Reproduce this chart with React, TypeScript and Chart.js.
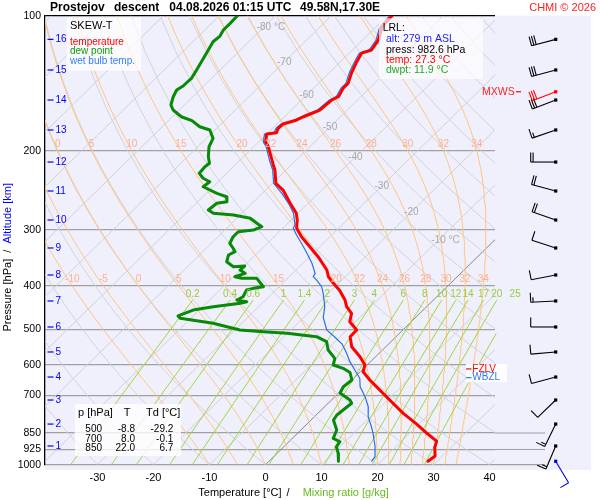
import React, { useEffect, useRef } from 'react';
import { Chart, registerables } from 'chart.js';

Chart.register(...registerables);

const FONT = '"Liberation Sans", Arial, Helvetica, sans-serif';
Chart.defaults.font.family = FONT;

// ---------- axes ----------
const P_TICKS = [100, 200, 300, 400, 500, 600, 700, 850, 925, 1000];
const X_TICKS = [-30, -20, -10, 0, 10, 20, 30, 40];
const X_MIN = -39.375;
const X_MAX = 40.982;
const SKEW = 81.78; // deg C of shift per decade of pressure

// ---------- profiles (pressure hPa / temperature degC) ----------
const TEMP_P = [100.0, 106.1, 113.3, 119.2, 121.2, 126.6, 133.5, 141.5, 145.1, 151.5, 154.1, 162.2, 167.9, 170.7, 174.3, 178.2, 182.3, 183.5, 190.9, 195.8, 202.5, 215.0, 220.6, 236.2, 244.5, 261.7, 275.4, 285.1, 297.5, 310.6, 326.9, 344.1, 368.5, 381.4, 394.5, 409.8, 429.7, 444.7, 460.1, 480.3, 501.2, 518.7, 546.0, 574.7, 599.8, 620.7, 647.7, 675.9, 717.7, 768.5, 811.9, 852.2, 885.8, 915.7, 956.4, 982.6];
const TEMP_T = [-59.2, -58.9, -57.2, -56.6, -57.8, -57.1, -56.1, -54.7, -54.7, -54.0, -54.6, -54.9, -56.6, -57.2, -58.9, -59.0, -58.5, -60.0, -58.8, -57.4, -55.9, -53.2, -52.0, -49.4, -46.9, -43.2, -40.3, -38.9, -37.5, -35.1, -31.8, -28.5, -24.5, -23.0, -20.9, -18.4, -15.8, -14.3, -12.2, -11.0, -8.25, -8.2, -6.1, -2.8, -0.4, 0.5, 3.2, 6.2, 10.4, 15.25, 19.6, 23.2, 26.25, 27.1, 28.7, 28.4];

const DEW_P = [100.0, 104.0, 107.6, 111.0, 114.3, 119.2, 124.4, 132.1, 137.9, 143.4, 146.4, 151.5, 158.1, 162.2, 167.9, 171.3, 176.7, 179.7, 187.6, 195.8, 206.1, 213.2, 216.9, 224.4, 230.2, 234.3, 240.4, 248.7, 253.1, 259.5, 261.7, 270.8, 275.4, 277.8, 282.6, 290.0, 295.1, 300.2, 302.8, 310.6, 321.3, 329.6, 335.4, 341.2, 353.1, 362.3, 361.0, 368.5, 374.8, 381.4, 384.5, 384.5, 401.4, 404.8, 408.3, 422.6, 429.7, 433.5, 437.1, 444.7, 452.4, 466.4, 472.0, 484.3, 501.2, 505.6, 509.7, 518.7, 532.1, 555.3, 579.5, 599.8, 610.0, 623.2, 647.7, 670.4, 692.4, 717.7, 729.8, 755.5, 775.1, 795.3, 837.0, 873.6, 889.0, 912.1, 943.2, 982.6];
const DEW_T = [-86.8, -86.7, -86.7, -86.2, -86.4, -85.75, -85.1, -84.2, -83.6, -83.7, -84.1, -83.5, -82.4, -81.1, -78.4, -75.8, -73.3, -70.9, -68.8, -68.0, -66.3, -64.9, -65.1, -64.9, -63.3, -61.5, -61.75, -58.1, -55.75, -54.8, -56.3, -56.6, -55.1, -51.2, -47.6, -45.5, -44.0, -44.9, -47.3, -47.3, -46.7, -45.2, -44.25, -44.8, -43.9, -41.8, -39.9, -40.0, -38.5, -39.7, -38.2, -35.5, -32.8, -34.3, -35.2, -34.6, -35.1, -33.05, -33.9, -38.1, -41.1, -42.7, -41.9, -35.1, -29.1, -24.6, -20.1, -14.2, -11.5, -9.7, -7.0, -6.05, -3.7, -1.7, 0.0, -0.3, 0.25, 3.3, 4.2, 3.9, 3.7, 4.0, 6.4, 7.3, 9.1, 9.4, 10.9, 12.4];

const WB_P = [100.0, 106.1, 113.3, 119.2, 121.2, 126.6, 133.5, 141.5, 145.1, 151.5, 154.1, 162.2, 167.9, 170.7, 174.3, 178.2, 182.3, 183.5, 190.9, 195.8, 202.5, 209.6, 220.6, 236.2, 248.7, 261.7, 275.4, 292.5, 297.5, 307.9, 321.3, 338.2, 355.9, 374.8, 381.4, 387.9, 401.4, 415.3, 444.7, 470.0, 501.2, 519.5, 538.5, 564.8, 589.6, 615.3, 642.1, 670.4, 705.7, 742.9, 781.9, 823.2, 851.4, 912.1, 959.8, 982.6];
const WB_T = [-59.6, -59.3, -57.6, -57.0, -58.2, -57.5, -56.5, -55.1, -55.1, -54.4, -55.0, -55.3, -57.0, -57.6, -59.3, -59.4, -58.9, -60.4, -59.2, -57.8, -56.3, -54.8, -52.4, -49.8, -46.5, -43.5, -40.8, -38.4, -38.1, -36.3, -33.9, -31.1, -28.4, -26.0, -25.7, -24.5, -22.4, -20.9, -18.2, -16.5, -13.6, -10.9, -8.3, -5.8, -3.7, -1.3, 1.1, 2.7, 5.4, 7.8, 9.6, 12.0, 13.5, 16.3, 18.1, 18.3];

// ---------- diagram reference lines ----------
const ISOTHERMS = [-130, -120, -110, -100, -90, -80, -70, -60, -50, -40, -30, -20, -10, 0, 10, 20, 30, 40];
const ISO_LABEL_T = [-80, -70, -60, -50, -40, -30, -20, -10];
const ISO_LABEL_P = [106.0, 126.8, 150.2, 176.9, 206.4, 239.5, 273.6, 316.1];
const DRY_THETA = [-30, -20, -10, 0, 10, 20, 30, 40, 50, 60, 70, 80, 90, 100, 110, 120, 130, 140, 150, 160, 170];
const THETA_W = [-10, -5, 0, 5, 10, 15, 20, 22, 24, 26, 28, 30, 32, 34];
const THETA_W_LABEL_P = [200, 400];
const MIX_W = [0.2, 0.4, 0.6, 1, 1.4, 2, 3, 4, 6, 8, 10, 12, 14, 17, 20, 25];
const MIX_TOP_P = 430;

// ---------- altitude & wind ----------
const ALT_KM = [16, 15, 14, 13, 12, 11, 10, 9, 8, 7, 6, 5, 4, 3, 2, 1];
const ALT_P = [112.9, 132.1, 154.1, 179.7, 211.8, 245.7, 285.1, 329.1, 378.0, 431.9, 493.5, 561.0, 637.9, 717.7, 811.9, 908.5];
const WIND_DIR = [255, 255, 249, 251, 270, 285, 289, 288, 259, 267, 270, 265, 255, 226, 206, 203];
const WIND_KT = [30, 30, 30, 15, 20, 20, 20, 10, 10, 15, 10, 10, 10, 10, 15, 15];
const MXWS_P = 147.7;
const MXWS_DIR = 249;
const MXWS_KT = 30;
const SFC_P = 982.6;
const SFC_DIR = 149;
const SFC_KT = 10;
const FZLV_P = 612;
const WBZL_P = 640;

// ---------- info texts ----------
const TABLE_P = [500, 700, 850];
const TABLE_T = [-8.8, 8.0, 22.0];
const TABLE_TD = [-29.2, -0.1, 6.7];
const LRL_ALT = 279;
const LRL_PRESS = 982.6;
const LRL_TEMP = 27.3;
const LRL_DWPT = 11.9;

// ---------- helpers ----------
function skewX(T: number, p: number) {
  return T + SKEW * Math.log10(1000 / p);
}
function pts(P: number[], T: number[]) {
  return P.map((p, i) => ({ x: skewX(T[i], p), y: p }));
}
function lapse(T: number, p: number) {
  const es = 6.112 * Math.exp((17.67 * (T - 273.15)) / (T - 29.65));
  const rs = (0.622 * es) / (p - es);
  return (287.04 * T + 2.501e6 * rs) / (p * (1005.7 + (2.501e6 * 2.501e6 * rs * 0.622) / (287.04 * T * T)));
}
function moistCurve(thw: number) {
  const out: { p: number; T: number }[] = [{ p: 1000, T: thw }];
  let T = thw + 273.15;
  let p = 1000;
  const dp = -2;
  for (let i = 0; i < 450; i++) {
    const k1 = lapse(T, p);
    const k2 = lapse(T + (dp / 2) * k1, p + dp / 2);
    const k3 = lapse(T + (dp / 2) * k2, p + dp / 2);
    const k4 = lapse(T + dp * k3, p + dp);
    T += (dp / 6) * (k1 + 2 * k2 + 2 * k3 + k4);
    p += dp;
    if (i % 5 === 4) out.push({ p: Math.round(p), T: T - 273.15 });
  }
  return out;
}
function mixT(w: number, p: number) {
  const e = (w * p) / (622 + w);
  const l = Math.log(e / 6.112);
  return (243.5 * l) / (17.67 - l);
}

const MOIST = THETA_W.map((t) => moistCurve(t));

function lineDs(data: any[], color: string, width: number, extra: any = {}) {
  return {
    data,
    showLine: true,
    borderColor: color,
    borderWidth: width,
    pointRadius: 0,
    pointHoverRadius: 0,
    fill: false,
    tension: 0,
    ...extra,
  };
}

function buildDatasets() {
  const ds: any[] = [];
  ds.push(lineDs(pts(TEMP_P, TEMP_T), '#ff0000', 3, { borderJoinStyle: 'round', borderCapStyle: 'round' }));
  ds.push(lineDs(pts(WB_P, WB_T), '#2a6ee8', 1.2));
  ds.push(lineDs(pts(DEW_P, DEW_T), '#078a07', 3, { borderJoinStyle: 'round', borderCapStyle: 'round' }));
  MIX_W.forEach((w) => {
    const d: any[] = [];
    for (let p = 1000; p >= MIX_TOP_P; p -= 10) d.push({ x: skewX(mixT(w, p), p), y: p });
    ds.push(lineDs(d, '#9fd43a', 1, { clip: false }));
  });
  MOIST.forEach((c) => {
    ds.push(lineDs(c.map((q) => ({ x: skewX(q.T, q.p), y: q.p })), '#ffc57e', 1));
  });
  DRY_THETA.forEach((th) => {
    const d: any[] = [];
    for (let p = 1000; p >= 100; p -= 20) {
      const T = (th + 273.15) * Math.pow(p / 1000, 0.2857) - 273.15;
      d.push({ x: skewX(T, p), y: p });
    }
    ds.push(lineDs(d, '#d2d2d8', 1));
  });
  ISOTHERMS.forEach((t) => {
    ds.push(
      lineDs(
        [
          { x: skewX(t, 1000), y: 1000 },
          { x: skewX(t, 100), y: 100 },
        ],
        t === 0 ? '#858585' : '#d0d0d6',
        1
      )
    );
  });
  return ds;
}

function drawBarb(ctx: CanvasRenderingContext2D, x: number, y: number, dir: number, kt: number, color: string) {
  const r = (dir * Math.PI) / 180;
  const dx = Math.sin(r);
  const dy = -Math.cos(r);
  const L = 25;
  const tx = x + dx * L;
  const ty = y + dy * L;
  const nx = -dy;
  const ny = dx;
  ctx.save();
  ctx.strokeStyle = color;
  ctx.fillStyle = color;
  ctx.lineWidth = 1.1;
  ctx.beginPath();
  ctx.moveTo(x, y);
  ctx.lineTo(tx, ty);
  ctx.stroke();
  ctx.fillRect(x - 1.6, y - 1.6, 3.2, 3.2);
  let rem = Math.round(kt / 5) * 5;
  let pos = 0;
  const feather = (len: number) => {
    const sx = tx - dx * pos;
    const sy = ty - dy * pos;
    ctx.beginPath();
    ctx.moveTo(sx, sy);
    ctx.lineTo(sx + nx * len, sy + ny * len);
    ctx.stroke();
    pos += 2.4;
  };
  while (rem >= 10) {
    feather(9.5);
    rem -= 10;
  }
  if (rem >= 5) {
    if (pos === 0) pos = 2.4;
    feather(5);
  }
  ctx.restore();
}

function text(ctx: CanvasRenderingContext2D, s: string, x: number, y: number, color: string, size: number, align: CanvasTextAlign = 'left', bold = false) {
  ctx.fillStyle = color;
  ctx.font = `${bold ? 'bold ' : ''}${size}px ${FONT}`;
  ctx.textAlign = align;
  ctx.textBaseline = 'middle';
  ctx.fillText(s, x, y);
}

const skewPlugin = {
  id: 'skewtDecor',
  beforeDraw(chart: any) {
    const ctx = chart.ctx as CanvasRenderingContext2D;
    const a = chart.chartArea;
    ctx.save();
    ctx.fillStyle = '#f0f0fc';
    ctx.fillRect(a.left, a.top, 591 - a.left, 470 - a.top);
    ctx.restore();
  },
  afterDatasetsDraw(chart: any) {
    const ctx = chart.ctx as CanvasRenderingContext2D;
    const xs = chart.scales.x;
    const ys = chart.scales.y;
    const a = chart.chartArea;
    const X = (T: number, p: number) => xs.getPixelForValue(skewX(T, p));
    const Y = (p: number) => ys.getPixelForValue(p);
    ctx.save();

    // extended pressure lines under the wind column
    ctx.strokeStyle = '#a0a0a0';
    ctx.lineWidth = 1.2;
    [850, 925, 1000].forEach((p) => {
      ctx.beginPath();
      ctx.moveTo(a.right, Y(p));
      ctx.lineTo(545, Y(p));
      ctx.stroke();
    });

    // isotherm labels
    ISO_LABEL_T.forEach((t, i) => {
      const p = ISO_LABEL_P[i];
      const x = X(t, p);
      const y = Y(p);
      ctx.font = `10px ${FONT}`;
      const num = String(t);
      const w = ctx.measureText(num).width;
      const s = t === -80 || t === -10 ? num + ' °C' : num;
      text(ctx, s, x - w / 2, y, '#a8a8a8', 10, 'left');
    });

    // wet-bulb potential temperature labels
    THETA_W.forEach((t, i) => {
      THETA_W_LABEL_P.forEach((lp) => {
        const q = MOIST[i].find((c) => Math.abs(c.p - lp) < 1);
        if (!q) return;
        const x = X(q.T, lp);
        if (x < a.left + 4 || x > a.right) return;
        text(ctx, String(t), x, Y(lp) - 7, '#ffaf8c', 10, 'center');
      });
    });

    // mixing ratio labels
    MIX_W.forEach((w) => {
      const x = X(mixT(w, MIX_TOP_P), MIX_TOP_P);
      text(ctx, String(w), x, Y(MIX_TOP_P) - 6, '#99cc3c', 10, 'center');
    });

    // legend box
    ctx.fillStyle = 'rgba(255,255,255,0.72)';
    ctx.fillRect(66.7, 17.7, 74.3, 53);
    text(ctx, 'SKEW-T', 70, 26, '#000', 11);
    text(ctx, 'temperature', 70, 42.3, '#ff0000', 10);
    text(ctx, 'dew point', 70, 51.7, '#119911', 10);
    text(ctx, 'wet bulb temp.', 70, 61.7, '#3380ee', 10);

    // LRL box
    ctx.fillStyle = 'rgba(255,255,255,0.68)';
    ctx.fillRect(379, 18.3, 104, 60.7);
    text(ctx, 'LRL:', 382.7, 28.3, '#000', 10.5);
    text(ctx, `alt: ${LRL_ALT} m ASL`, 386, 39.3, '#2020ff', 10.5);
    text(ctx, `press: ${LRL_PRESS.toFixed(1)} hPa`, 386, 50, '#000', 10.5);
    text(ctx, `temp: ${LRL_TEMP.toFixed(1)} °C`, 386, 60, '#ff0000', 10.5);
    text(ctx, `dwpt: ${LRL_DWPT.toFixed(1)} °C`, 386, 70, '#22aa22', 10.5);

    // table box
    ctx.fillStyle = 'rgba(255,255,255,0.8)';
    ctx.fillRect(75, 404, 106, 52);
    text(ctx, 'p [hPa]', 78, 413.3, '#000', 11);
    text(ctx, 'T', 127, 413.3, '#000', 11, 'center');
    text(ctx, 'Td [°C]', 146, 413.3, '#000', 11);
    TABLE_P.forEach((p, i) => {
      const y = 429 + i * 9.85;
      text(ctx, String(p), 102, y, '#000', 10, 'right');
      text(ctx, TABLE_T[i].toFixed(1), 135, y, '#000', 10, 'right');
      text(ctx, TABLE_TD[i].toFixed(1), 173.3, y, '#000', 10, 'right');
    });

    // freezing levels
    const yF = Y(FZLV_P);
    const yW = Y(WBZL_P);
    ctx.fillStyle = 'rgba(255,255,255,0.9)';
    ctx.fillRect(466, yF - 5, 41, yW - yF + 9.5);
    ctx.lineWidth = 1.2;
    ctx.strokeStyle = '#ff0000';
    ctx.beginPath();
    ctx.moveTo(466, yF);
    ctx.lineTo(471.5, yF);
    ctx.stroke();
    text(ctx, 'FZLV', 472.3, yF, '#ff0000', 10);
    ctx.strokeStyle = '#3377ee';
    ctx.beginPath();
    ctx.moveTo(466, yW);
    ctx.lineTo(471.5, yW);
    ctx.stroke();
    text(ctx, 'WBZL', 472.3, yW, '#3377ee', 10);

    // altitude labels
    ALT_KM.forEach((km, i) => {
      const y = Y(ALT_P[i]);
      ctx.strokeStyle = '#0000ff';
      ctx.lineWidth = 1.2;
      ctx.beginPath();
      ctx.moveTo(47.5, y);
      ctx.lineTo(53.5, y);
      ctx.stroke();
      text(ctx, String(km), 55.5, y, '#0000ff', 10);
    });

    // wind barbs
    ALT_KM.forEach((km, i) => {
      drawBarb(ctx, 555.7, Y(ALT_P[i]), WIND_DIR[i], WIND_KT[i], '#000');
    });
    const yM = Y(MXWS_P);
    drawBarb(ctx, 555.7, yM, MXWS_DIR, MXWS_KT, '#ff0000');
    text(ctx, 'MXWS', 482, yM, '#ff2020', 10.5);
    ctx.strokeStyle = '#ff0000';
    ctx.lineWidth = 1.2;
    ctx.beginPath();
    ctx.moveTo(516, yM);
    ctx.lineTo(521, yM);
    ctx.stroke();
    drawBarb(ctx, 555.7, Y(SFC_P), SFC_DIR, SFC_KT, '#0000dd');

    ctx.restore();
  },
  afterDraw(chart: any) {
    const ctx = chart.ctx as CanvasRenderingContext2D;
    ctx.save();
    // title
    text(ctx, 'Prostejov', 50, 8, '#000', 12, 'left', true);
    text(ctx, 'descent', 114, 8, '#000', 12, 'left', true);
    text(ctx, '04.08.2026 01:15 UTC', 169.3, 8, '#000', 12, 'left', true);
    text(ctx, '49.58N,17.30E', 300, 8, '#000', 12, 'left', true);
    text(ctx, 'CHMI © 2026', 596, 8, '#ff2020', 11, 'right');
    // x title
    text(ctx, 'Temperature [°C]', 198.3, 493, '#000', 11);
    text(ctx, '/', 288, 493, '#000', 11, 'center');
    text(ctx, 'Mixing ratio [g/kg]', 302.7, 493, '#66bb22', 11);
    // y title (rotated)
    ctx.translate(8, 0);
    ctx.rotate(-Math.PI / 2);
    ctx.font = `11px ${FONT}`;
    const s1 = 'Pressure [hPa]  /  ';
    const s2 = 'Altitude [km]';
    const w1 = ctx.measureText(s1).width;
    const w2 = ctx.measureText(s2).width;
    const start = -(183 + w1 + w2);
    text(ctx, s1, start, 0, '#000', 11);
    text(ctx, s2, start + w1, 0, '#0000ff', 11);
    ctx.restore();
  },
};

export default function App() {
  const ref = useRef<HTMLCanvasElement>(null);
  useEffect(() => {
    document.body.style.margin = '0';
    const canvas = ref.current;
    if (!canvas) return;
    const chart = new Chart(canvas, {
      type: 'scatter',
      data: { datasets: buildDatasets() },
      options: {
        animation: false,
        responsive: false,
        events: [],
        layout: { padding: { left: 0, right: 105, top: 15.7, bottom: 0 } },
        plugins: {
          legend: { display: false },
          tooltip: { enabled: false },
          title: { display: false },
        },
        scales: {
          x: {
            type: 'linear',
            min: X_MIN,
            max: X_MAX,
            grid: { display: false, drawTicks: false },
            border: { display: false },
            ticks: {
              font: { size: 11, family: FONT },
              color: '#000',
              padding: 7,
              autoSkip: false,
              maxRotation: 0,
              callback: (v: any) => String(v),
            },
            afterBuildTicks: (s: any) => {
              s.ticks = X_TICKS.map((v) => ({ value: v }));
            },
            afterFit: (s: any) => {
              s.height = 35.3;
            },
          },
          y: {
            type: 'logarithmic',
            reverse: true,
            min: 100,
            max: 1000,
            grid: {
              color: (c: any) => (c.tick && c.tick.value === 100 ? '#000' : '#a0a0a0'),
              lineWidth: 1.2,
              drawTicks: false,
            },
            border: { display: true, color: '#000', width: 1.3 },
            ticks: {
              font: { size: 10.5, family: FONT },
              color: '#000',
              padding: 4,
              autoSkip: false,
              callback: (v: any) => String(v),
            },
            afterBuildTicks: (s: any) => {
              s.ticks = P_TICKS.map((v) => ({ value: v }));
            },
            afterFit: (s: any) => {
              s.width = 45;
            },
          },
        },
      } as any,
      plugins: [skewPlugin as any],
    });
    return () => chart.destroy();
  }, []);
  return (
    <div style={{ position: 'absolute', left: 0, top: 0, width: 600, height: 500 }}>
      <canvas ref={ref} width={600} height={500} style={{ width: 600, height: 500, display: 'block' }} />
    </div>
  );
}
